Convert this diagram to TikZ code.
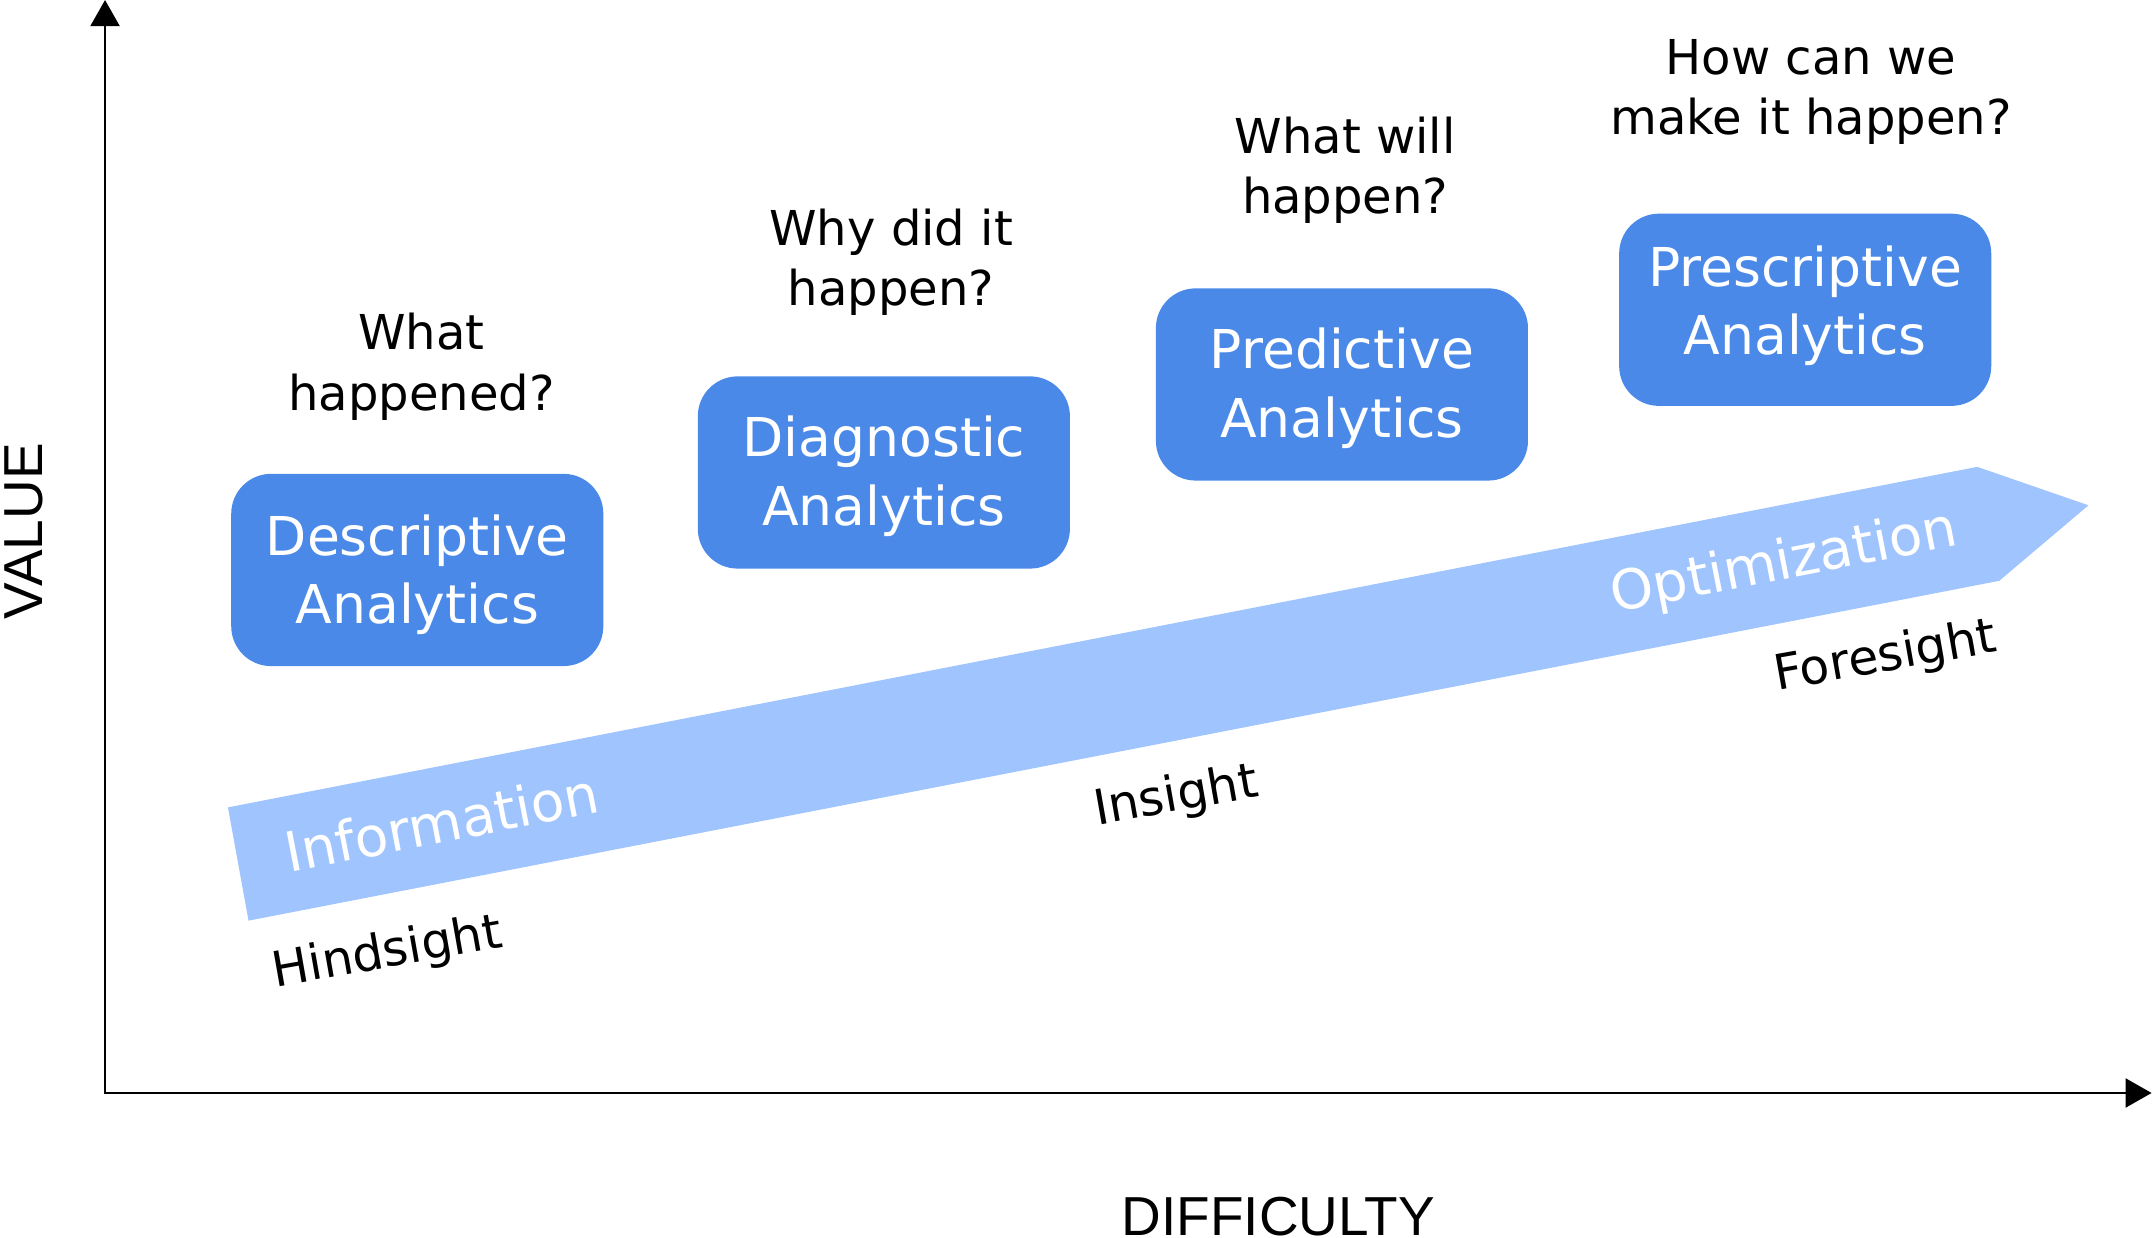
\documentclass[tikz,border=0pt]{standalone}
\usepackage{fontspec}
\setmainfont{DejaVu Sans}
\newfontfamily\axisfont{Liberation Sans}
\usetikzlibrary{arrows.meta}
\definecolor{boxblue}{RGB}{74,137,232}
\definecolor{arrowblue}{RGB}{160,196,253}
\begin{document}
\begin{tikzpicture}[x=1pt,y=-1pt,
  anabox/.style={fill=boxblue, draw=none, rounded corners=29pt, minimum width=271pt, minimum height=140pt, inner sep=0pt},
  anatext/.style={text=white, align=center, font=\fontsize{39}{50}\selectfont, inner sep=0pt},
  question/.style={align=center, font=\fontsize{35}{44}\selectfont, inner sep=0pt},
  bandtext/.style={text=white, font=\fontsize{40}{48}\selectfont, rotate=11, anchor=base west, inner sep=0pt},
  sighttext/.style={font=\fontsize{35.5}{42}\selectfont, rotate=10, anchor=base west, inner sep=0pt},
  axislabel/.style={font=\axisfont\fontsize{40}{48}\selectfont, inner sep=0pt, anchor=base},
  axisline/.style={line width=2pt, line join=miter, {Triangle[length=19pt,width=21pt]}-{Triangle[length=19pt,width=21pt]}}
]
\useasboundingbox (0,0) rectangle (1568,901.6);

% progress band
\fill[arrowblue] (166,588) -- (1440,340) -- (1521,368) -- (1456,423) -- (181,670.5) -- cycle;

% axes
\coordinate (origin) at (76.5,796);
\coordinate (ytip) at (76.5,0);
\coordinate (xtip) at (1567,796);
\draw[axisline] (ytip) -- (origin) -- (xtip);

% analytics boxes
\node[anabox] (desc) at (303.9,415.1) {};
\node[anabox] (diag) at (643.7,344.1) {};
\node[anabox] (pred) at (977.3,280) {};
\node[anabox] (pres) at (1314.7,225.6) {};
\node[anatext] (desc-t) at ([yshift=-3.5pt]desc.center) {Descriptive\\Analytics};
\node[anatext] (diag-t) at ([yshift=-2.5pt]diag.center) {Diagnostic\\Analytics};
\node[anatext] (pred-t) at ([yshift=-2.5pt]pred.center) {Predictive\\Analytics};
\node[anatext] (pres-t) at ([yshift=3pt]pres.center) {Prescriptive\\Analytics};

% questions
\node[question] (q1) at (307,267.2) {What\\happened?};
\node[question] (q2) at (649,191) {Why did it\\happen?};
\node[question] (q3) at (979.7,124) {What will\\happen?};
\node[question] (q4) at (1319,67.1) {How can we\\make it happen?};

% band labels
\node[bandtext] (info) at (210.5,635.5) {Information};
\node[bandtext] (optim) at (1175.5,446) {Optimization};
\node[sighttext] (hind) at (200.5,719) {Hindsight};
\node[sighttext] (ins) at (799,601) {Insight};
\node[sighttext] (fore) at (1294,503) {Foresight};

% axis labels
\node[axislabel, rotate=90] (value) at (30.6,386.9) {VALUE};
\node[axislabel] (difficulty) at (931,899.5) {DIFFICULTY};
\end{tikzpicture}
\end{document}
